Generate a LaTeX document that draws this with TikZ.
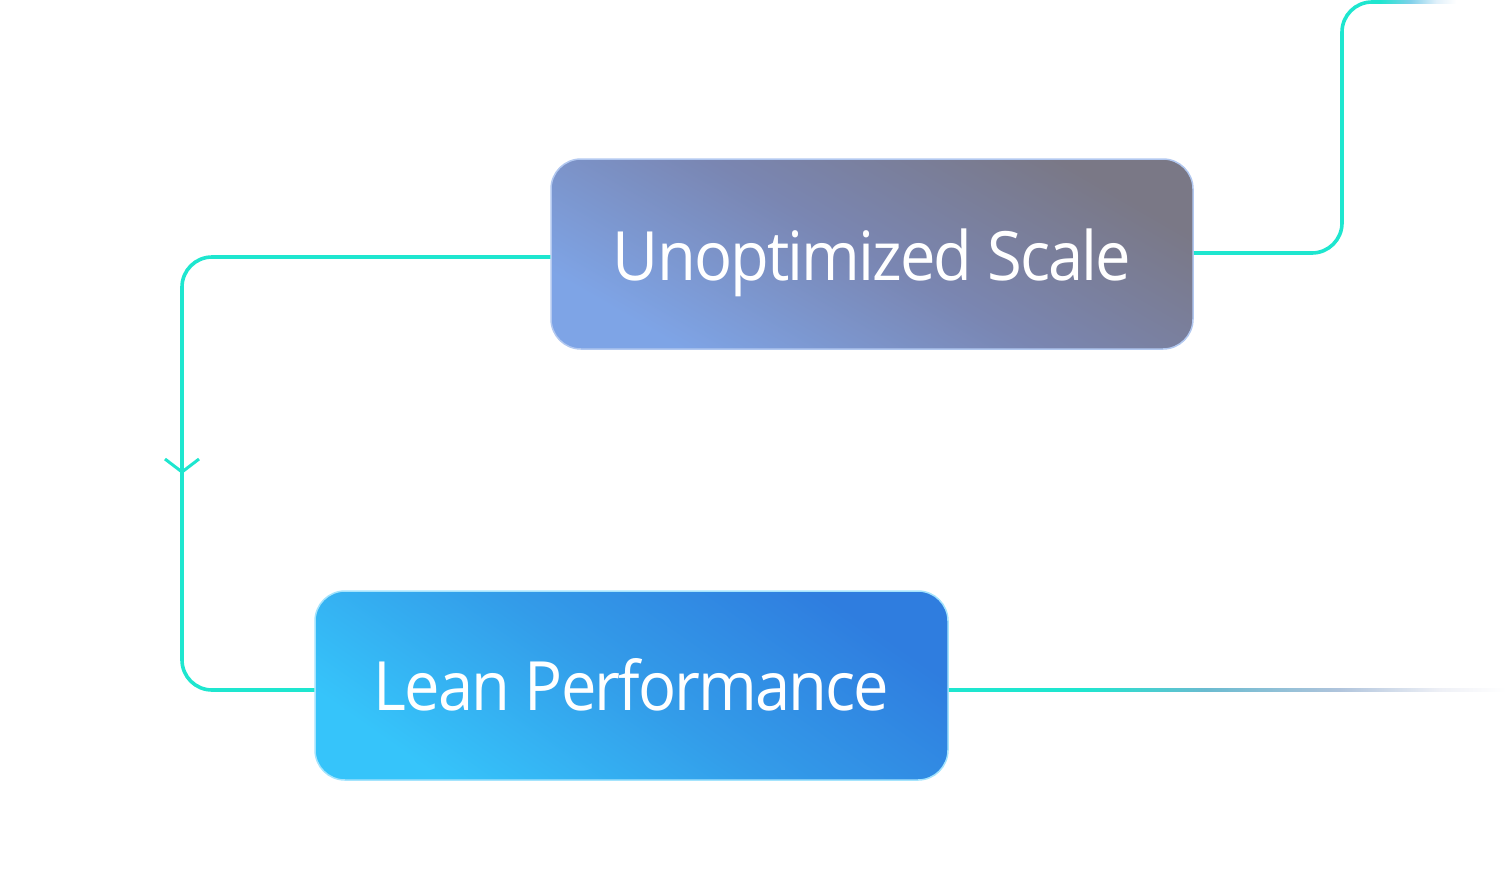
\documentclass[tikz,border=0pt]{standalone}
\usepackage{fontspec}
\IfFontExistsTF{Open Sans}{\setmainfont{Open Sans}[FakeStretch=0.93,LetterSpace=-2.8]}{%
  \IfFontExistsTF{Lato}{\setmainfont{Lato}}{\setmainfont{Liberation Sans}}}
\usetikzlibrary{calc}
\definecolor{teal1}{HTML}{1EE6CF}
\definecolor{topA}{HTML}{7EA4E6}
\definecolor{topB}{HTML}{7A86B2}
\definecolor{topC}{HTML}{7A7886}
\definecolor{botA}{HTML}{36C4FA}
\definecolor{botB}{HTML}{339CE9}
\definecolor{botC}{HTML}{2F7DDF}
\definecolor{fadeM}{HTML}{6ABBD0}
\definecolor{fadeN}{HTML}{B0C4DC}
\definecolor{fadeP}{HTML}{EEF0F6}
\definecolor{skyM}{HTML}{80D0EA}
\definecolor{skyN}{HTML}{E0F0FA}
\pgfdeclarehorizontalshading{topshade}{100bp}{color(0bp)=(topA); color(25bp)=(topA); color(50bp)=(topB); color(75bp)=(topC); color(100bp)=(topC)}
\pgfdeclarehorizontalshading{botshade}{100bp}{color(0bp)=(botA); color(25bp)=(botA); color(50bp)=(botB); color(75bp)=(botC); color(100bp)=(botC)}
\pgfdeclarehorizontalshading{fadelong}{100bp}{color(0bp)=(teal1); color(25bp)=(teal1); color(37bp)=(teal1); color(48bp)=(fadeM); color(60bp)=(fadeN); color(69bp)=(fadeP); color(75bp)=(white); color(100bp)=(white)}
\pgfdeclarehorizontalshading{fadeshort}{100bp}{color(0bp)=(teal1); color(25bp)=(teal1); color(45bp)=(skyM); color(62bp)=(skyN); color(75bp)=(white); color(100bp)=(white)}
\tikzset{
  box/.style={rounded corners=30pt, minimum width=642pt, minimum height=190pt,
    text=white, font=\fontsize{68}{68}\selectfont, inner sep=0pt,
    text height=49pt, text depth=0pt, line width=1.5pt},
  conn/.style={draw=teal1, line width=3.6pt, rounded corners=30pt},
  chev/.style={draw=teal1, line width=3pt}
}
\begin{document}
\begin{tikzpicture}[x=1pt,y=-1pt]
\useasboundingbox (0,0) rectangle (1506,870);
\node[box, draw=topA!60!white, shading=topshade, shading angle=60] (top) at (872,254) {\raisebox{-2pt}{Unoptimized Scale}};
\node[box, draw=botA!45!white, shading=botshade, shading angle=55, minimum width=633pt, minimum height=189pt] (bot) at (631.5,685.5) {Lean Performance};
% left loop connector
\coordinate (tl) at (top.west |- 0,257);
\coordinate (bl) at (bot.west |- 0,690);
\draw[conn] (tl) -- (182,257) -- (182,690) -- (bl);
% arrowhead
\coordinate (tip) at (182,472);
\draw[chev] ($(tip)+(-17,-13)$) -- (tip) -- ($(tip)+(17,-13)$);
% right upper connector
\coordinate (tr) at (top.east |- 0,253);
\coordinate (upfade) at (1380,2);
\draw[conn] (tr) -- (1342,253) -- (1342,2) -- (upfade);
\coordinate (upend) at (1456,2);
\shade[shading=fadeshort] ($(upfade)+(0,-1.8)$) rectangle ($(upend)+(0,1.8)$);
% lower right connector
\coordinate (br) at (bot.east |- 0,690);
\coordinate (brend) at (1506,690);
\shade[shading=fadelong] ($(br)+(0,-1.8)$) rectangle ($(brend)+(0,1.8)$);
\end{tikzpicture}
\end{document}
